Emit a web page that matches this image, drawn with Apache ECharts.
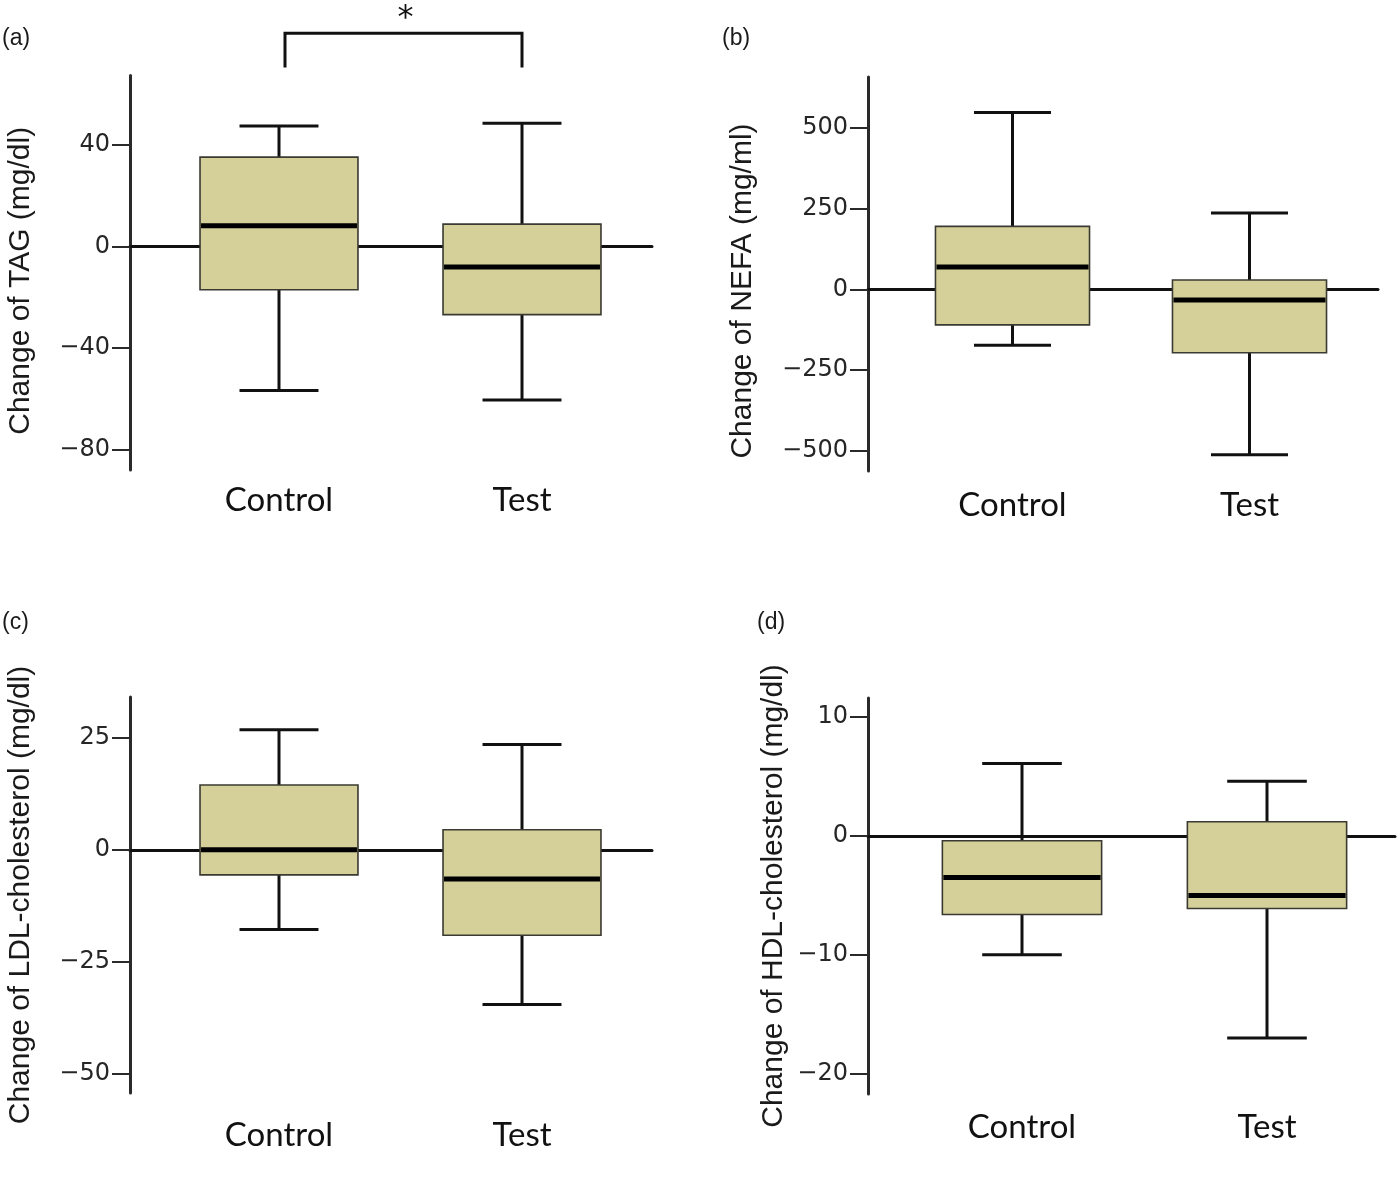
<!DOCTYPE html>
<html><head><meta charset="utf-8">
<script src="https://cdn.jsdelivr.net/npm/echarts@6/dist/echarts.min.js"></script>
<style>html,body{margin:0;padding:0;background:#fff}#c{width:1400px;height:1199px}</style>
</head><body><div id="c"></div>
<script>
// ---- data ----
const categories = ['Control', 'Test'];
// each: [min, Q1, median, Q3, max]
const tagControl  = [-56.7, -17.0, 8.2, 35.2, 47.5];
const tagTest     = [-60.4, -26.8, -8.1, 8.8, 48.5];
const nefaControl = [-173, -110, 69, 195, 547];
const nefaTest    = [-512, -196, -33, 29, 236];
const ldlControl  = [-17.8, -5.6, 0, 14.5, 26.9];
const ldlTest     = [-34.6, -19.1, -6.5, 4.5, 23.6];
const hdlControl  = [-10.0, -6.6, -3.5, -0.4, 6.1];
const hdlTest     = [-17.0, -6.1, -5.0, 1.2, 4.6];
const tagTicks  = [-80, -40, 0, 40];
const nefaTicks = [-500, -250, 0, 250, 500];
const ldlTicks  = [-50, -25, 0, 25];
const hdlTicks  = [-20, -10, 0, 10];
const axisNames = ['Change of TAG (mg/dl)', 'Change of NEFA (mg/ml)', 'Change of LDL-cholesterol (mg/dl)', 'Change of HDL-cholesterol (mg/dl)'];
const panelLabels = ['(a)', '(b)', '(c)', '(d)'];
// significance bracket on panel (a): from category, to category, leg bottom value, top value, label
const sigBracket = ['Control', 'Test', 70.5, 84, '*'];

// ---- layout (pixels) ----
const panels = [
  {series: [tagControl, tagTest],   ticks: tagTicks,  yMin: -88,   yMax: 67.3, ax: 130, top: 75.6, bottom: 470,  right: 652,  catLeft: 157.5, catWidth: 486, nameGap: 94,  namePad: 16, labMargin: 14, label: [2, 27]},
  {series: [nefaControl, nefaTest], ticks: nefaTicks, yMin: -562,  yMax: 657,  ax: 868, top: 77,   bottom: 471,  right: 1378, catLeft: 894,   catWidth: 474, nameGap: 110, namePad: 34, labMargin: 18, label: [722, 27]},
  {series: [ldlControl, ldlTest],   ticks: ldlTicks,  yMin: -54.4, yMax: 34.2, ax: 130, top: 697,  bottom: 1093, right: 652,  catLeft: 157.5, catWidth: 486, nameGap: 94,  namePad: 0,  labMargin: 26, label: [2, 611]},
  {series: [hdlControl, hdlTest],   ticks: hdlTicks,  yMin: -21.7, yMax: 11.6, ax: 868, top: 698,  bottom: 1094, right: 1395, catLeft: 899.5, catWidth: 490, nameGap: 79,  namePad: 0,  labMargin: 17, label: [757, 611]}
];

const BOX_FILL = '#d5d09a';
const minus = v => String(v).replace('-', '\u2212');

function renderBox(params, api) {
  const i = api.value(0);
  const c = v => api.coord([i, v]);
  const pMin = c(api.value(1)), pQ1 = c(api.value(2)), pMed = c(api.value(3)), pQ3 = c(api.value(4)), pMax = c(api.value(5));
  const band = api.size([1, 0])[0];
  const bw = band * 0.65, cw = bw * 0.5;
  const x = pMed[0];
  const ls = {stroke: '#111', lineWidth: 3};
  return {type: 'group', children: [
    {type: 'line', shape: {x1: x, y1: pMax[1], x2: x, y2: pQ3[1]}, style: ls},
    {type: 'line', shape: {x1: x, y1: pQ1[1], x2: x, y2: pMin[1]}, style: ls},
    {type: 'line', shape: {x1: x - cw / 2, y1: pMax[1], x2: x + cw / 2, y2: pMax[1]}, style: ls},
    {type: 'line', shape: {x1: x - cw / 2, y1: pMin[1], x2: x + cw / 2, y2: pMin[1]}, style: ls},
    {type: 'rect', shape: {x: x - bw / 2, y: pQ3[1], width: bw, height: pQ1[1] - pQ3[1]}, style: {fill: BOX_FILL, stroke: '#3a3a32', lineWidth: 1.6}},
    {type: 'line', shape: {x1: x - bw / 2 + 1, y1: pMed[1], x2: x + bw / 2 - 1, y2: pMed[1]}, style: {stroke: '#000', lineWidth: 5}}
  ]};
}

function renderBracket(params, api) {
  const a = api.coord([api.value(0), api.value(2)]);
  const b = api.coord([api.value(1), api.value(2)]);
  const t = api.coord([api.value(0), api.value(3)]);
  const top = t[1];
  return {type: 'group', children: [
    {type: 'polyline', shape: {points: [[a[0] + 6, a[1]], [a[0] + 6, top], [b[0], top], [b[0], b[1]]]}, style: {stroke: '#111', lineWidth: 3, fill: null}},
    {type: 'text', x: (a[0] + b[0]) / 2 + 5, y: top + 1, style: {text: sigBracket[4], font: '32px "DejaVu Sans"', fill: '#111', align: 'center', verticalAlign: 'bottom'}}
  ]};
}

const grid = [], xAxis = [], yAxis = [], series = [], title = [];
panels.forEach((p, k) => {
  const gB = grid.length;
  grid.push({left: p.ax, top: p.top, width: p.right - p.ax, height: p.bottom - p.top});
  grid.push({left: p.catLeft, top: p.top, width: p.catWidth, height: p.bottom - p.top});
  // grid B: visible y axis + zero line
  xAxis.push({gridIndex: gB, type: 'value', min: 0, max: 1, axisLine: {show: true, onZero: true, lineStyle: {color: '#111', width: 3}}, axisTick: {show: false}, axisLabel: {show: false}, splitLine: {show: false}});
  yAxis.push({gridIndex: gB, type: 'value', min: p.yMin, max: p.yMax,
    name: axisNames[k], nameLocation: 'middle', nameGap: p.nameGap,
    nameTextStyle: {fontFamily: 'Liberation Sans', fontSize: 30, color: '#1a1a1a', padding: [0, p.namePad, 0, 0]},
    axisLine: {show: true, lineStyle: {color: '#2a2a2a', width: 3}},
    axisTick: {show: true, length: 18, lineStyle: {color: '#2a2a2a', width: 2}, customValues: p.ticks},
    axisLabel: {show: true, margin: 20, fontFamily: 'DejaVu Sans', fontSize: 24, color: '#262626', customValues: p.ticks, formatter: minus},
    splitLine: {show: false}});
  // grid A: boxes
  xAxis.push({gridIndex: gB + 1, type: 'category', data: categories, boundaryGap: true,
    axisLine: {show: false}, axisTick: {show: false},
    axisLabel: {show: true, margin: p.labMargin, fontFamily: 'Lato', fontSize: 33, color: '#111'}});
  yAxis.push({gridIndex: gB + 1, type: 'value', min: p.yMin, max: p.yMax, show: false, splitLine: {show: false}});
  series.push({type: 'custom', xAxisIndex: gB + 1, yAxisIndex: gB + 1, renderItem: renderBox, z: 3,
    encode: {x: 0, y: [1, 2, 3, 4, 5]},
    data: p.series.map((s, i) => [i].concat(s))});
  if (k === 0) {
    series.push({type: 'custom', xAxisIndex: gB + 1, yAxisIndex: gB + 1, renderItem: renderBracket, clip: false, z: 3,
      encode: {x: [0, 1], y: [2, 3]},
      data: [[categories.indexOf(sigBracket[0]), categories.indexOf(sigBracket[1]), sigBracket[2], sigBracket[3]]]});
  }
  title.push({text: panelLabels[k], left: p.label[0], top: p.label[1], padding: 0,
    textStyle: {fontFamily: 'Liberation Sans', fontSize: 23, fontWeight: 'normal', color: '#1a1a1a'}});
});

const chart = echarts.init(document.getElementById('c'), null, {renderer: 'canvas'});
chart.setOption({backgroundColor: '#fff', animation: false, title, grid, xAxis, yAxis, series});
</script></body></html>
